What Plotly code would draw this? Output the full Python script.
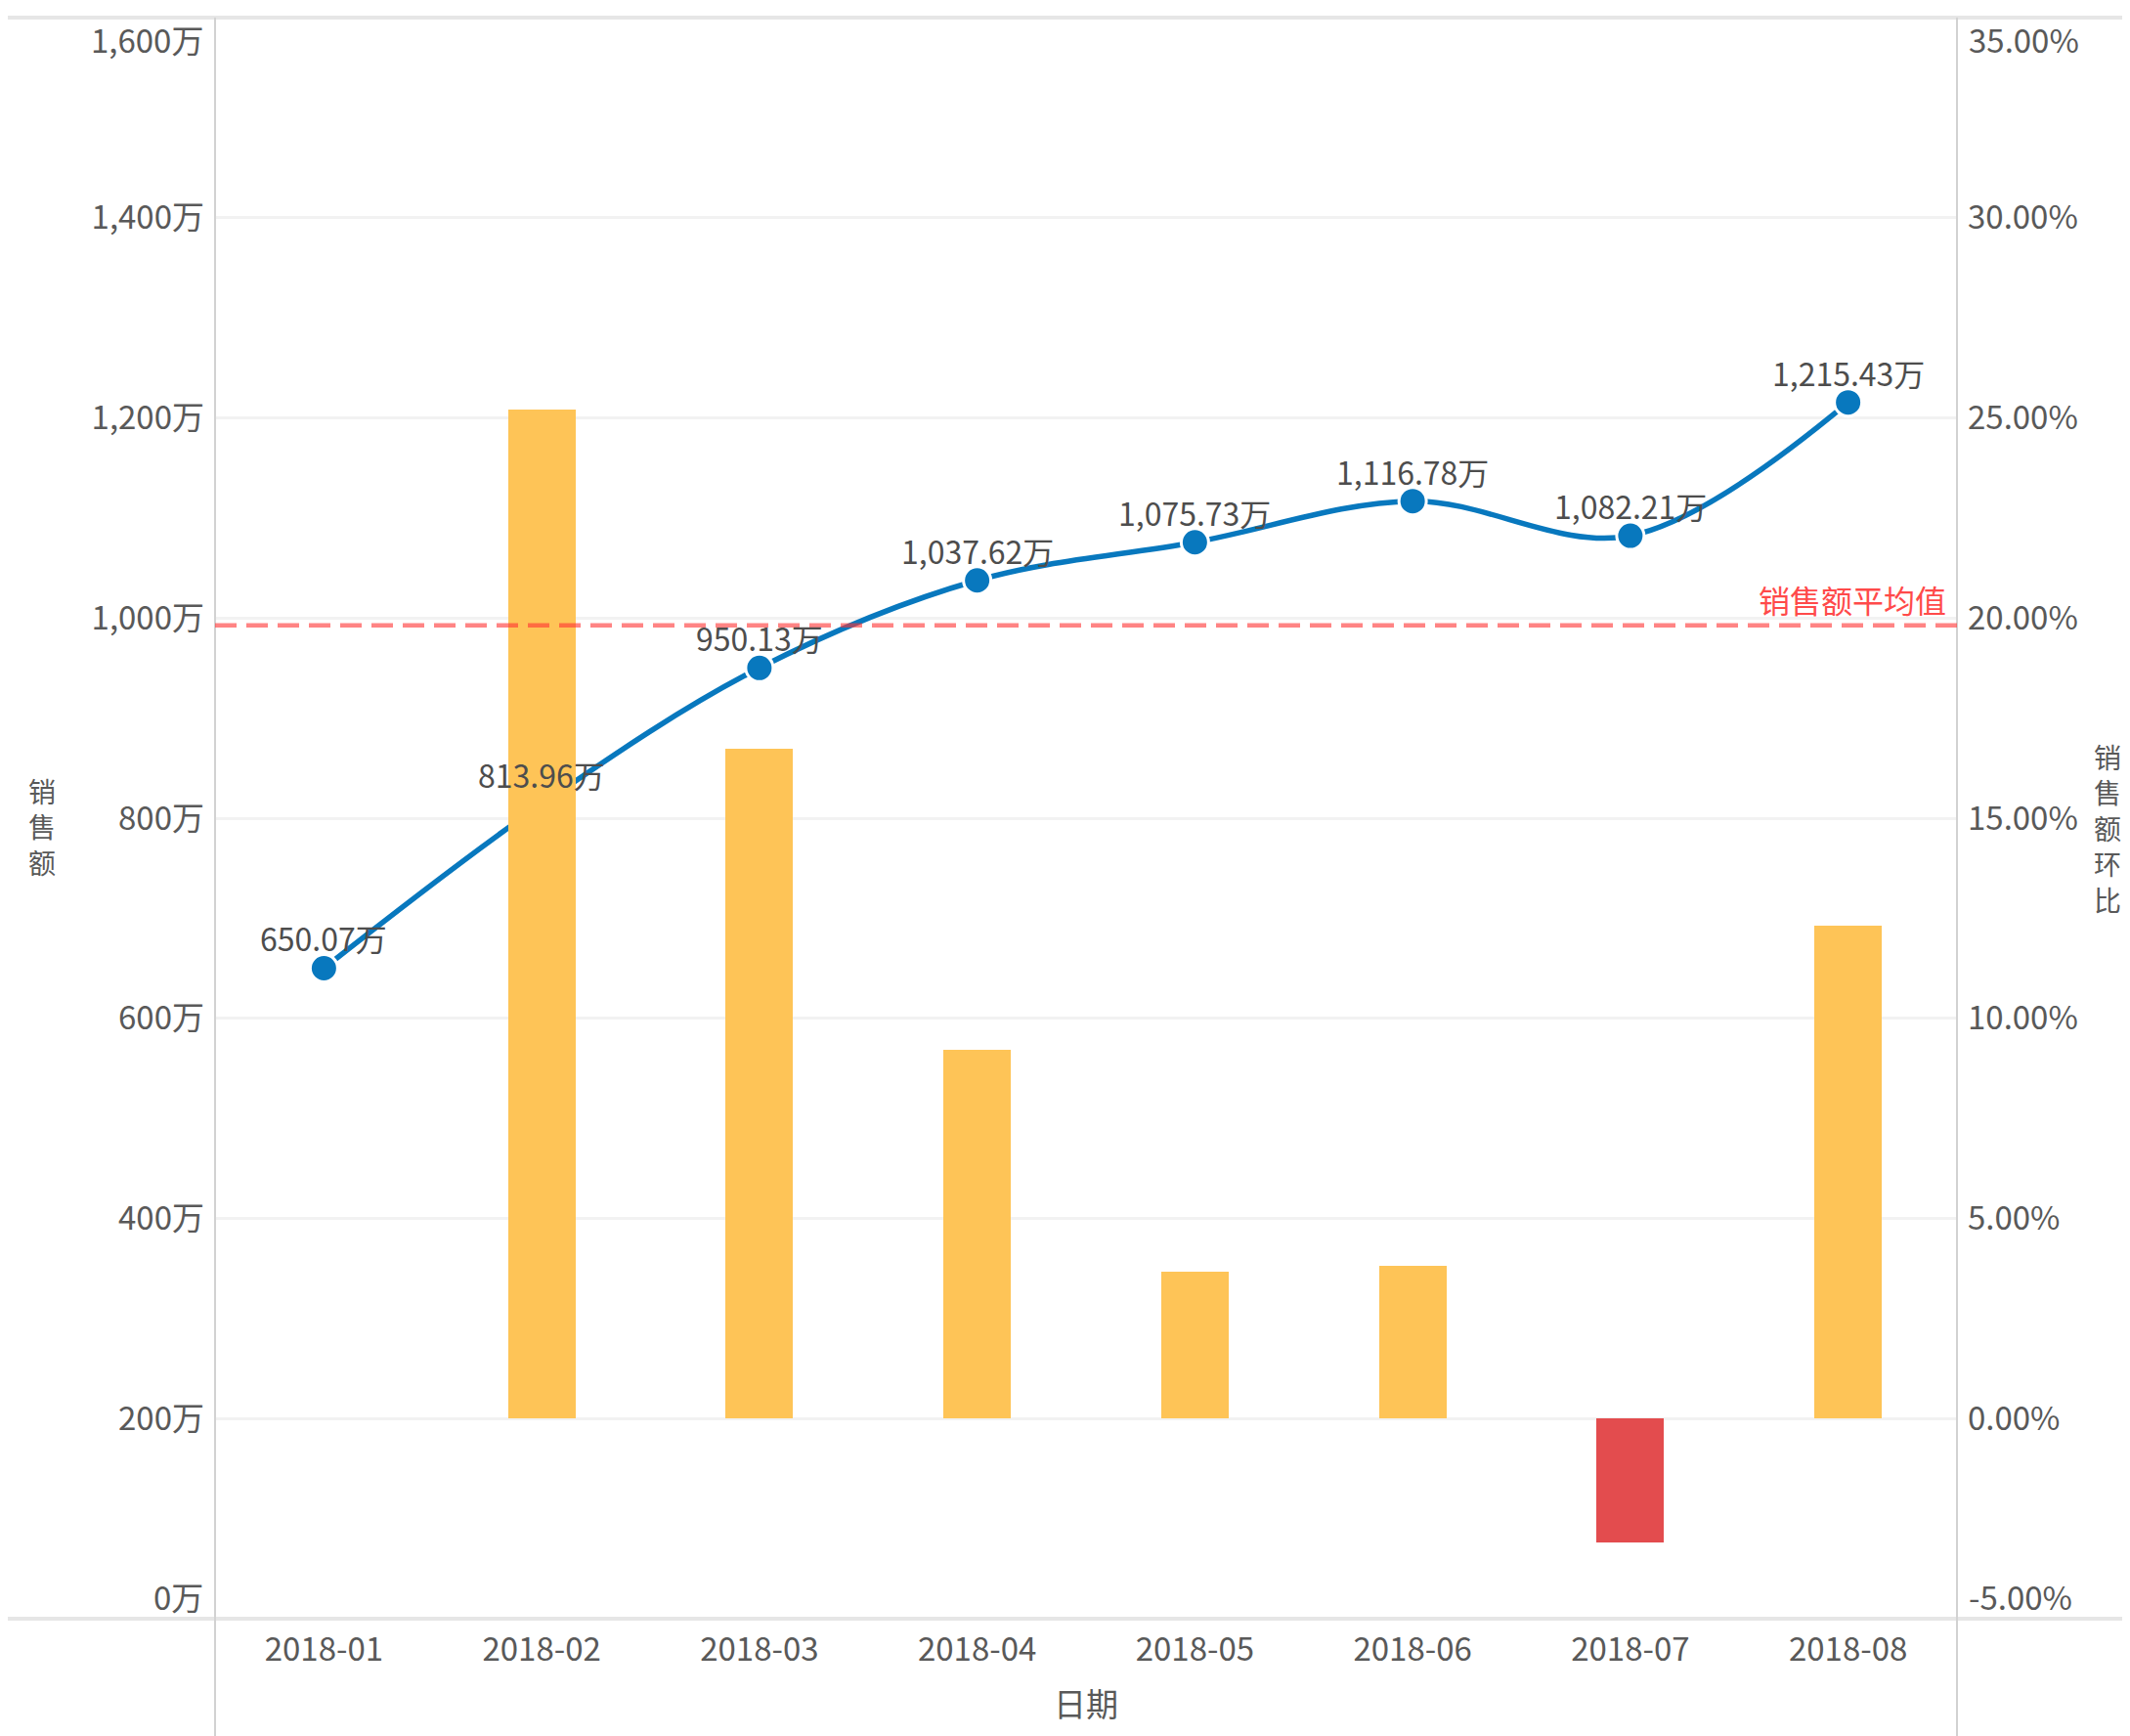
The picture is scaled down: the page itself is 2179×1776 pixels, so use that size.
import plotly.graph_objects as go

# ---------------- data ----------------
months = ["2018-01", "2018-02", "2018-03", "2018-04", "2018-05", "2018-06", "2018-07", "2018-08"]
sales = [650.07, 813.96, 950.13, 1037.62, 1075.73, 1116.78, 1082.21, 1215.43]          # 万
mom_pct = [None, 25.21, 16.73, 9.21, 3.67, 3.82, -3.10, 12.31]                          # %
left_tick_vals = [0, 200, 400, 600, 800, 1000, 1200, 1400, 1600]
left_tick_text = ["0万", "200万", "400万", "600万", "800万", "1,000万", "1,200万", "1,400万", "1,600万"]
right_tick_vals = [-5, 0, 5, 10, 15, 20, 25, 30, 35]
right_tick_text = ["-5.00%", "0.00%", "5.00%", "10.00%", "15.00%", "20.00%", "25.00%", "30.00%", "35.00%"]
avg_label = "销售额平均值"
left_title = "销售额"
right_title = "销售额环比"
x_title = "日期"

# ---------------- style ----------------
W, H = 2179, 1776
OFF = 8  # default page body margin
# plot area in page pixels: left 220, right 2002, top 18, bottom 1656
ML, MR, MT, MB = 220 - OFF, W - (2002 - OFF), 18 - OFF, H - (1656 - OFF)
PW, PH = W - ML - MR, H - MT - MB
FONT = "Microsoft YaHei, Noto Sans CJK SC, sans-serif"
TICK_COLOR = "#595959"
FS = 33
LINE_BLUE = "#0878BE"
BAR_POS = "#FEC457"
BAR_NEG = "#E34C4E"

avg_val = sum(sales) / len(sales)

fig = go.Figure()

# line (below bars)
fig.add_trace(go.Scatter(
    x=months, y=sales, mode="lines+markers", yaxis="y",
    line=dict(color=LINE_BLUE, width=5.5, shape="spline", smoothing=1.0),
    marker=dict(size=28, color=LINE_BLUE, line=dict(color="white", width=3)),
    hoverinfo="skip", showlegend=False,
))

# bars (on overlaying axis -> drawn above the line)
fig.add_trace(go.Bar(
    x=months, y=mom_pct, yaxis="y2", width=0.31,
    marker=dict(color=[BAR_NEG if (v is not None and v < 0) else BAR_POS for v in mom_pct],
                line=dict(width=0)),
    hoverinfo="skip", showlegend=False,
))

left_range = [left_tick_vals[0], left_tick_vals[-1]]
right_range = [right_tick_vals[0], right_tick_vals[-1]]

fig.update_layout(
    width=W, height=H,
    margin=dict(l=ML, r=MR, t=MT, b=MB, autoexpand=False),
    paper_bgcolor="white", plot_bgcolor="white",
    font=dict(family=FONT, size=FS, color=TICK_COLOR),
    bargap=0,
    xaxis=dict(
        type="category", categoryorder="array", categoryarray=months,
        range=[-0.5, len(months) - 0.5],
        showgrid=False, zeroline=False, showline=False, ticks="",
        tickfont=dict(size=FS, color=TICK_COLOR, family=FONT),
        ticklabelstandoff=9,
    ),
    yaxis=dict(
        range=left_range, tickvals=left_tick_vals,
        ticktext=["" if i in (0, len(left_tick_vals) - 1) else t for i, t in enumerate(left_tick_text)],
        showgrid=True, gridcolor="#F2F2F2", gridwidth=3,
        zeroline=False, showline=False, ticks="",
        tickfont=dict(size=FS, color=TICK_COLOR, family=FONT),
        ticklabelstandoff=10,
    ),
    yaxis2=dict(
        range=right_range, overlaying="y", side="right", tickvals=right_tick_vals,
        ticktext=["" if i in (0, len(right_tick_vals) - 1) else t for i, t in enumerate(right_tick_text)],
        showgrid=False, zeroline=False, showline=False, ticks="",
        tickfont=dict(size=FS, color=TICK_COLOR, family=FONT),
        ticklabelstandoff=10,
    ),
)

shapes = []
# frame lines
x_left_ext = -(ML - 0) / PW
x_right_ext = 1 + MR / PW
y_bottom_ext = -MB / PH
shapes.append(dict(type="line", xref="paper", yref="paper", x0=x_left_ext, x1=x_right_ext, y0=1, y1=1,
                   line=dict(color="#E6E6E6", width=4), layer="above"))
shapes.append(dict(type="line", xref="paper", yref="paper", x0=x_left_ext, x1=x_right_ext, y0=0, y1=0,
                   line=dict(color="#E6E6E6", width=4), layer="above"))
shapes.append(dict(type="line", xref="paper", yref="paper", x0=0, x1=0, y0=y_bottom_ext, y1=1,
                   line=dict(color="#D2D2D2", width=2), layer="above"))
shapes.append(dict(type="line", xref="paper", yref="paper", x0=1, x1=1, y0=y_bottom_ext, y1=1,
                   line=dict(color="#D2D2D2", width=2), layer="above"))
# average reference line
shapes.append(dict(type="line", xref="paper", yref="y", x0=0, x1=1, y0=avg_val, y1=avg_val,
                   line=dict(color="rgba(255,50,50,0.6)", width=4.5, dash="22px,10px"), layer="above"))
fig.update_layout(shapes=shapes)

ann = []
# data labels (on top of bars)
for m, v in zip(months, sales):
    ann.append(dict(x=m, y=v, xref="x", yref="y", text=f"{v:,.2f}万", showarrow=False,
                    yshift=31, xanchor="center", yanchor="middle",
                    font=dict(size=32, color="#4D4D4D", family=FONT)))
# end tick labels pulled inside
ann.append(dict(x=0, y=left_tick_vals[-1], xref="paper", yref="y", text=left_tick_text[-1], showarrow=False,
                xanchor="right", yanchor="middle", xshift=-10, yshift=-22,
                font=dict(size=FS, color=TICK_COLOR, family=FONT)))
ann.append(dict(x=0, y=left_tick_vals[0], xref="paper", yref="y", text=left_tick_text[0], showarrow=False,
                xanchor="right", yanchor="middle", xshift=-10, yshift=23,
                font=dict(size=FS, color=TICK_COLOR, family=FONT)))
ann.append(dict(x=1, y=right_tick_vals[-1], xref="paper", yref="y2", text=right_tick_text[-1], showarrow=False,
                xanchor="left", yanchor="middle", xshift=10, yshift=-22,
                font=dict(size=FS, color=TICK_COLOR, family=FONT)))
ann.append(dict(x=1, y=right_tick_vals[0], xref="paper", yref="y2", text=right_tick_text[0], showarrow=False,
                xanchor="left", yanchor="middle", xshift=10, yshift=23,
                font=dict(size=FS, color=TICK_COLOR, family=FONT)))
# average label
ann.append(dict(x=1, y=avg_val, xref="paper", yref="y", text=avg_label, showarrow=False,
                xanchor="right", yanchor="middle", xshift=-9, yshift=27,
                font=dict(size=32, color="#FF4A4A", family=FONT)))
# x title
ann.append(dict(x=0.5, y=0, xref="paper", yref="paper", text=x_title, showarrow=False,
                xanchor="center", yanchor="middle", yshift=-86,
                font=dict(size=FS, color=TICK_COLOR, family=FONT)))
# vertical stacked titles (one text each, one character per line)
TFS = 28
ann.append(dict(x=0, y=(1656 - 845) / PH, xref="paper", yref="paper", text="<br>".join(left_title),
                showarrow=False, xanchor="center", yanchor="middle", xshift=43 - 220,
                font=dict(size=TFS, color=TICK_COLOR, family=FONT)))
ann.append(dict(x=1, y=(1656 - 847) / PH, xref="paper", yref="paper", text="<br>".join(right_title),
                showarrow=False, xanchor="center", yanchor="middle", xshift=2156 - 2002,
                font=dict(size=TFS, color=TICK_COLOR, family=FONT)))
fig.update_layout(annotations=ann)

fig.write_html("out.html")
